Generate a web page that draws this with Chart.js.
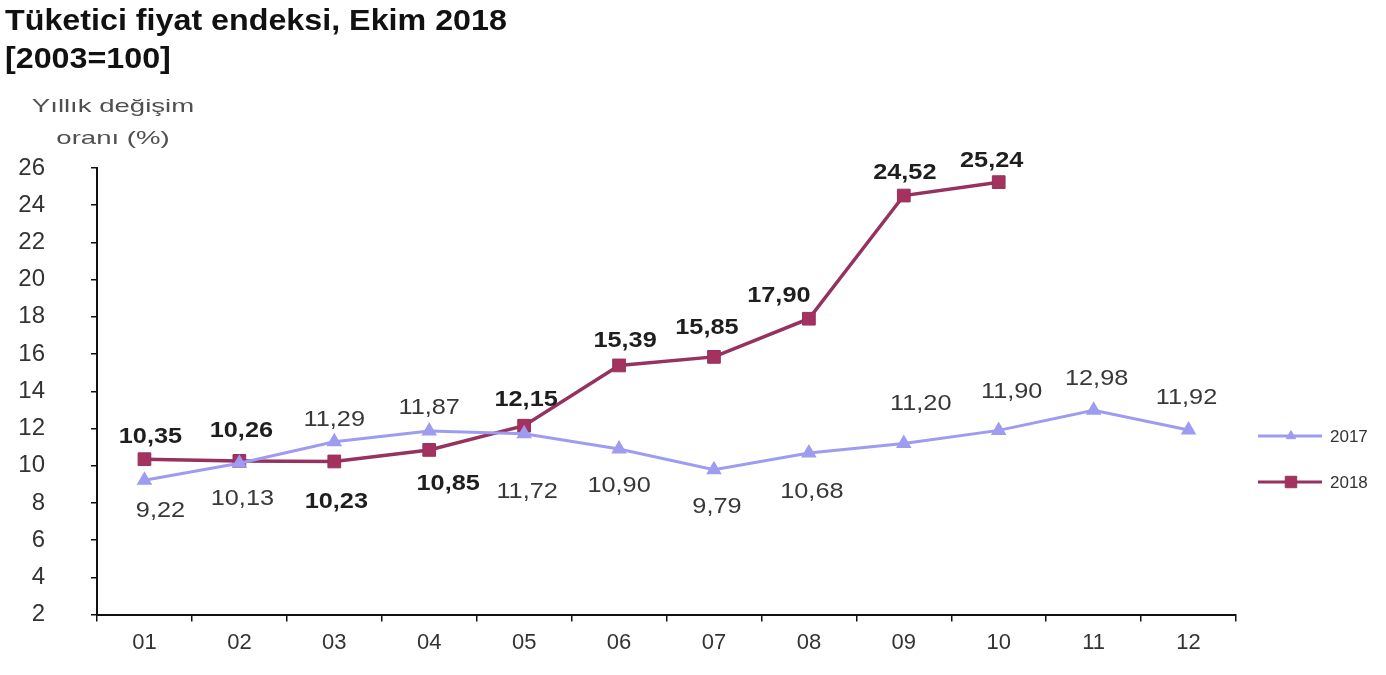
<!DOCTYPE html>
<html>
<head>
<meta charset="utf-8">
<script src="https://cdn.jsdelivr.net/npm/chart.js@4/dist/chart.umd.min.js"></script>
<style>
  html, body { margin: 0; padding: 0; background: #fff; }
  #wrap { position: relative; width: 1386px; height: 675px; overflow: hidden; }
  #wrap canvas { position: absolute; left: 0; top: 0; }
  .title { position: absolute; left: 5px; top: 1px; font-family: "Liberation Sans", Arial, sans-serif;
           font-weight: bold; font-size: 30px; line-height: 38px; color: #111;
           transform: scaleX(1.075); transform-origin: left top; white-space: nowrap; }
  .ytitle { position: absolute; left: 0; top: 90px; width: 226px; text-align: center;
            font-family: "Liberation Sans", Arial, sans-serif; font-size: 19px; line-height: 32px;
            color: #505050; transform: scaleX(1.45); transform-origin: 113px 0; white-space: nowrap; }
</style>
</head>
<body>
<div id="wrap">
  <canvas id="c" width="1386" height="675"></canvas>
  <div class="title">Tüketici fiyat endeksi, Ekim 2018<br>[2003=100]</div>
  <div class="ytitle">Yıllık değişim<br>oranı (%)</div>
</div>
<script>
// ---- data ----
const months = ['01','02','03','04','05','06','07','08','09','10','11','12'];
const series2017 = [9.22, 10.13, 11.29, 11.87, 11.72, 10.90, 9.79, 10.68, 11.20, 11.90, 12.98, 11.92];
const series2018 = [10.35, 10.26, 10.23, 10.85, 12.15, 15.39, 15.85, 17.90, 24.52, 25.24];
const seriesNames = ['2017', '2018'];
const yMin = 2, yMax = 26, yStep = 2;

// ---- label placement (style) ----
const labelDx = [
  [16, 3, 0, 0, 3, 0, 3, 3, 17, 13, 3, -2],
  [6, 2, 2, 19, 2, 6, -7, -30, 1, -7]
];
const labelDy = [
  [31, 36, -22, -23, 58, 37, 37, 39, -39, -38, -31, -32],
  [-22, -30, 40, 34, -26, -24, -29, -23, -23, -21]
];

const FONT = '"Liberation Sans", Arial, sans-serif';
const col2017 = '#9d9cf0';
const col2018 = '#96325f';

const fmt = v => v.toFixed(2).replace('.', ',');

const dataLabels = {
  id: 'dataLabels',
  afterDatasetsDraw(chart) {
    const ctx = chart.ctx;
    chart.data.datasets.forEach((ds, i) => {
      const meta = chart.getDatasetMeta(i);
      meta.data.forEach((pt, j) => {
        const v = ds.data[j];
        if (v == null) return;
        ctx.save();
        ctx.translate(pt.x + labelDx[i][j], pt.y + labelDy[i][j]);
        ctx.scale(1.15, 1);
        ctx.font = (i === 1 ? 'bold ' : '') + '22px ' + FONT;
        ctx.fillStyle = i === 1 ? '#1e1e1e' : '#383838';
        ctx.textAlign = 'center';
        ctx.textBaseline = 'middle';
        ctx.fillText(fmt(v), 0, 0);
        ctx.restore();
      });
    });
  }
};

const customLegend = {
  id: 'customLegend',
  afterDraw(chart) {
    const ctx = chart.ctx;
    const ys = [436, 482];
    chart.data.datasets.forEach((ds, i) => {
      const y = ys[i];
      ctx.save();
      ctx.strokeStyle = ds.borderColor;
      ctx.lineWidth = 3;
      ctx.beginPath();
      ctx.moveTo(1258, y);
      ctx.lineTo(1322, y);
      ctx.stroke();
      ctx.fillStyle = ds.pointBackgroundColor;
      ctx.strokeStyle = ds.pointBorderColor;
      ctx.lineWidth = 1;
      Chart.helpers.drawPoint(ctx, { pointStyle: ds.pointStyle, radius: ds.pointRadius * 0.9, rotation: 0, borderWidth: 1 }, 1291, y);
      ctx.font = '17px ' + FONT;
      ctx.fillStyle = '#333';
      ctx.textAlign = 'left';
      ctx.textBaseline = 'middle';
      ctx.fillText(ds.label, 1330, y + 1);
      ctx.restore();
    });
  }
};

new Chart(document.getElementById('c'), {
  type: 'line',
  data: {
    labels: months,
    datasets: [
      {
        label: seriesNames[0],
        data: series2017,
        borderColor: col2017,
        backgroundColor: col2017,
        pointBackgroundColor: col2017,
        pointBorderColor: col2017,
        pointStyle: 'triangle',
        pointRadius: 6,
        borderWidth: 3,
        tension: 0
      },
      {
        label: seriesNames[1],
        data: series2018,
        borderColor: col2018,
        backgroundColor: '#a3325f',
        pointBackgroundColor: '#a3325f',
        pointBorderColor: col2018,
        pointStyle: 'rect',
        pointRadius: 9,
        pointBorderWidth: 1,
        borderWidth: 3.5,
        tension: 0
      }
    ]
  },
  options: {
    responsive: false,
    animation: false,
    devicePixelRatio: 1,
    layout: { padding: { top: 168, right: 150, left: 0, bottom: 0 } },
    plugins: { legend: { display: false }, tooltip: { enabled: false }, title: { display: false } },
    scales: {
      x: {
        type: 'category',
        offset: true,
        grid: { offset: true, drawOnChartArea: false, drawTicks: true, tickLength: 7, color: '#111', lineWidth: 1.5 },
        border: { display: true, color: '#111', width: 2 },
        ticks: { font: { family: FONT, size: 22 }, color: '#333', padding: 8, maxRotation: 0 },
        afterFit(s) { s.height = 60; }
      },
      y: {
        min: yMin, max: yMax,
        grid: { drawOnChartArea: false, drawTicks: true, tickLength: 6, color: '#111', lineWidth: 1.5 },
        border: { display: true, color: '#111', width: 2 },
        ticks: { stepSize: yStep, font: { family: FONT, size: 24 }, color: '#333', padding: 46 },
        afterFit(s) { s.width = 97; }
      }
    }
  },
  plugins: [dataLabels, customLegend]
});
</script>
</body>
</html>
